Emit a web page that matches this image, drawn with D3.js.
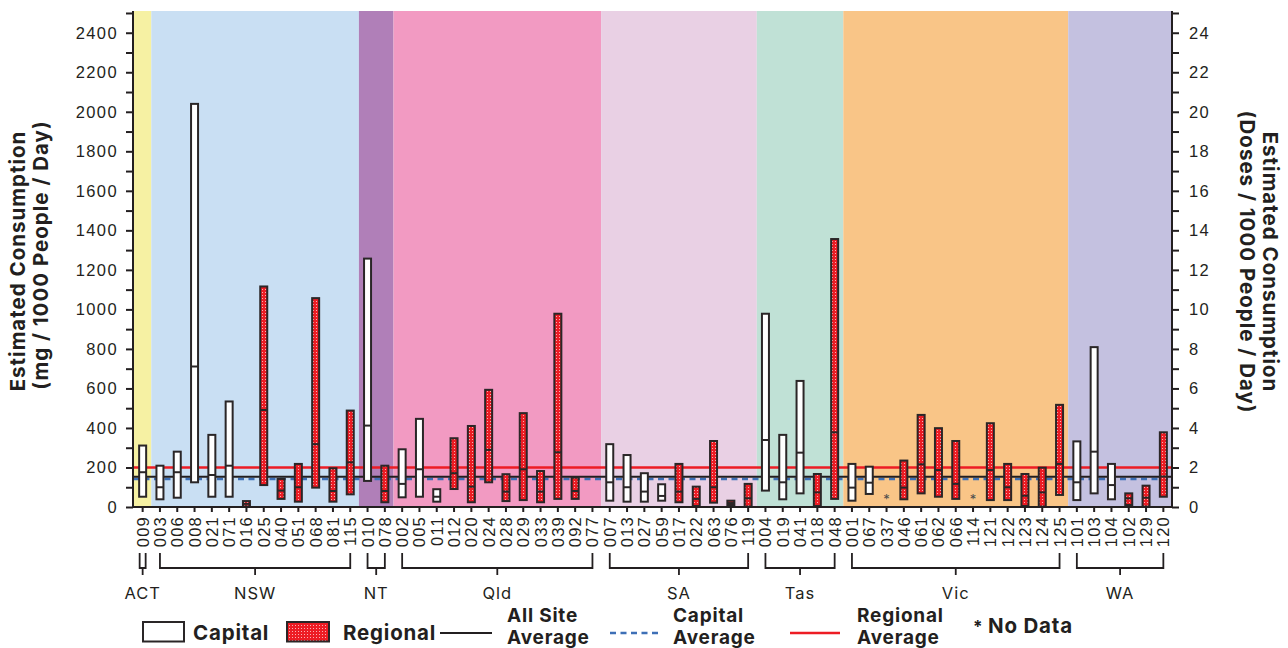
<!DOCTYPE html>
<html>
<head>
<meta charset="utf-8">
<script src="https://cdn.jsdelivr.net/npm/d3@7"></script>
<style>
  html, body { margin: 0; padding: 0; background: #ffffff; }
  svg { display: block; font-family: Inter, "Noto Sans", sans-serif; }
</style>
</head>
<body>
<svg id="chart" width="1288" height="648"></svg>
<script>
// ---- Data -----------------------------------------------------------------
const sites = ["009","003","006","008","021","071","016","025","040","051","068","081","115",
  "010","078","002","005","011","012","020","024","028","029","033","039","092","077",
  "007","013","027","059","017","022","063","076","119","004","019","041","018","048",
  "001","067","037","046","061","062","066","114","121","122","123","124","125",
  "101","103","104","102","129","120"];

// "C" = capital city site, "R" = regional site
const siteTypes = ["C","C","C","C","C","C","R","R","R","R","R","R","R",
  "C","R","C","C","C","R","R","R","R","R","R","R","R","R",
  "C","C","C","C","R","R","R","R","R","C","C","C","R","R",
  "C","C","C","R","R","R","R","R","R","R","R","R","R",
  "C","C","C","R","R","R"];

// mg / 1000 people / day : lowest, median and highest sample per site
const lowValues = [52,39,47,125,52,52,3,111,41,27,98,27,64,
  132,24,49,52,27,91,24,125,30,35,24,41,41,null,
  32,27,27,32,24,5,22,10,2,83,39,69,5,41,
  32,66,null,39,69,52,41,null,35,35,5,2,61,
  35,69,39,10,2,52];
const medianValues = [176,100,176,711,162,209,16,491,83,100,318,81,226,
  412,81,117,191,52,171,103,289,78,191,78,277,81,null,
  125,100,78,56,78,41,100,20,44,339,125,275,74,378,
  98,123,null,98,216,187,117,null,187,100,57,74,218,
  125,280,111,44,47,154];
const highValues = [311,209,280,2040,365,534,30,1116,142,218,1057,196,488,
  1257,209,292,446,90,348,410,593,166,475,182,978,149,null,
  318,263,171,115,218,103,334,32,117,978,365,638,167,1356,
  218,204,null,235,466,399,334,null,424,218,167,199,517,
  332,809,218,69,108,378];

const noDataSites = ["037","114"];

const stateNames = ["ACT","NSW","NT","Qld","SA","Tas","Vic","WA"];
const stateSiteCounts = [1,12,2,12,9,5,13,6];
const stateColours = ["#f6f1a3","#c9dff3","#b07fb8","#f29ac2","#e9d0e4","#c0e1d6","#f9c587","#c4c1e0"];

const allSiteAverage = 153;
const capitalAverage = 142;
const regionalAverage = 200;

const mgTickLabels = [0,200,400,600,800,1000,1200,1400,1600,1800,2000,2200,2400];
const doseTickLabels = [0,2,4,6,8,10,12,14,16,18,20,22,24];

// ---- Layout ---------------------------------------------------------------
const plotLeft = 133, plotRight = 1172, plotTop = 11, plotBottom = 507;
const ink = "#231f20";
const red = "#ed1c24";

const svg = d3.select("#chart");

// red fill with a sparse grid of white dots for regional sites
const defs = svg.append("defs");
const pat = defs.append("pattern")
  .attr("id", "regionalDots")
  .attr("patternUnits", "userSpaceOnUse")
  .attr("width", 3).attr("height", 3);
pat.append("rect").attr("width", 3).attr("height", 3).attr("fill", red);
pat.append("rect").attr("x", 1).attr("y", 1).attr("width", 1).attr("height", 1)
  .attr("fill", "#ffffff").attr("opacity", 0.65);

const x = d3.scaleBand().domain(sites).range([134, plotRight]).padding(0);
const bw = x.bandwidth();
const cx = s => x(s) + bw / 2;

const y = d3.scaleLinear().domain([0, 2510]).range([plotBottom, plotTop]);
const yDose = d3.scaleLinear().domain([0, 25.1]).range([plotBottom, plotTop]);

// ---- State background bands --------------------------------------------------
const stateGroups = [];
let start = 0;
stateNames.forEach((name, i) => {
  const members = sites.slice(start, start + stateSiteCounts[i]);
  stateGroups.push({ name, members, colour: stateColours[i] });
  start += stateSiteCounts[i];
});

svg.append("g").selectAll("rect")
  .data(stateGroups)
  .join("rect")
  .attr("x", (d, i) => i === 0 ? plotLeft : x(d.members[0]))
  .attr("y", plotTop)
  .attr("width", (d, i) => x(d.members[d.members.length - 1]) + bw - (i === 0 ? plotLeft : x(d.members[0])))
  .attr("height", plotBottom - plotTop)
  .attr("fill", d => d.colour);

// ---- Average lines -------------------------------------------------------------
const avg = svg.append("g");
avg.append("line")
  .attr("x1", plotLeft).attr("x2", plotRight)
  .attr("y1", y(regionalAverage)).attr("y2", y(regionalAverage))
  .attr("stroke", red).attr("stroke-width", 2.5);
avg.append("line")
  .attr("x1", plotLeft).attr("x2", plotRight)
  .attr("y1", y(capitalAverage)).attr("y2", y(capitalAverage))
  .attr("stroke", "#3d6fb6").attr("stroke-width", 2.5)
  .attr("stroke-dasharray", "6,4.5");
avg.append("line")
  .attr("x1", plotLeft).attr("x2", plotRight)
  .attr("y1", y(allSiteAverage)).attr("y2", y(allSiteAverage))
  .attr("stroke", ink).attr("stroke-width", 2);

// ---- Range bars ------------------------------------------------------------------
const siteData = sites.map((s, i) => ({
  site: s, type: siteTypes[i],
  low: lowValues[i], mid: medianValues[i], high: highValues[i]
})).filter(d => d.low !== null);

const barW = 7;
const bars = svg.append("g").selectAll("g")
  .data(siteData)
  .join("g");

bars.append("rect")
  .attr("x", d => cx(d.site) - barW / 2)
  .attr("y", d => y(d.high))
  .attr("width", barW)
  .attr("height", d => y(d.low) - y(d.high))
  .attr("fill", d => d.type === "C" ? "#ffffff" : "url(#regionalDots)")
  .attr("stroke", "#2a2627")
  .attr("stroke-width", 2);

bars.append("line")
  .attr("x1", d => cx(d.site) - barW / 2)
  .attr("x2", d => cx(d.site) + barW / 2)
  .attr("y1", d => y(d.mid))
  .attr("y2", d => y(d.mid))
  .attr("stroke", "#2a2627")
  .attr("stroke-width", 2);

svg.append("g").selectAll("text")
  .data(noDataSites)
  .join("text")
  .attr("x", d => cx(d))
  .attr("y", plotBottom - 3)
  .attr("text-anchor", "middle")
  .attr("font-size", 13)
  .attr("fill", "#4d4d4d")
  .text("*");

// ---- Axes ------------------------------------------------------------------------
function styleAxis(g) {
  g.select(".domain").remove();
  g.selectAll(".tick line").attr("stroke", ink).attr("stroke-width", 2);
  g.selectAll(".tick text").attr("fill", ink).attr("font-size", 16.5)
    .attr("letter-spacing", "1.4px");
}

svg.append("g")
  .attr("transform", `translate(${plotLeft},0)`)
  .call(d3.axisLeft(y)
    .tickValues(d3.range(0, 2501, 100))
    .tickSize(7).tickPadding(8)
    .tickFormat(d => mgTickLabels.includes(d) ? d : ""))
  .call(styleAxis);

svg.append("g")
  .attr("transform", `translate(${plotRight},0)`)
  .call(d3.axisRight(yDose)
    .tickValues(d3.range(0, 26, 1))
    .tickSize(7).tickPadding(10)
    .tickFormat(d => doseTickLabels.includes(d) ? d : ""))
  .call(styleAxis);

const bottomAxis = svg.append("g")
  .attr("transform", `translate(0,${plotBottom})`)
  .call(d3.axisBottom(x).tickSize(5).tickSizeOuter(0))
  .call(styleAxis);
bottomAxis.selectAll(".tick text")
  .attr("transform", "rotate(-90)")
  .attr("x", -9).attr("y", 0).attr("dy", "0.36em")
  .attr("text-anchor", "end")
  .attr("font-size", 16.5)
  .attr("letter-spacing", "1.2px");

// frame lines
const frame = svg.append("g").attr("stroke", ink).attr("stroke-width", 2).attr("fill", "none");
frame.append("line").attr("x1", plotLeft).attr("x2", plotLeft).attr("y1", plotTop).attr("y2", plotBottom + 1);
frame.append("line").attr("x1", plotRight).attr("x2", plotRight).attr("y1", plotTop).attr("y2", plotBottom + 1);
frame.append("line").attr("x1", plotLeft - 1).attr("x2", plotRight + 1).attr("y1", plotBottom).attr("y2", plotBottom);

// ---- State brackets --------------------------------------------------------------
const brTop = 553, brBottom = 568, brTick = 575;
const brackets = svg.append("g").attr("stroke", ink).attr("stroke-width", 1.8).attr("fill", "none");
stateGroups.forEach(g => {
  let x1 = cx(g.members[0]);
  let x2 = cx(g.members[g.members.length - 1]);
  if (x1 === x2) { x1 -= 3; x2 += 3; }
  const mid = (x1 + x2) / 2;
  brackets.append("path")
    .attr("d", `M${x1},${brTop}V${brBottom}H${x2}V${brTop}M${mid},${brBottom}V${brTick}`);
  svg.append("text")
    .attr("x", mid).attr("y", 599)
    .attr("text-anchor", "middle")
    .attr("font-size", 16.5)
    .attr("letter-spacing", "1px")
    .attr("fill", ink)
    .text(g.name);
});

// ---- Axis titles ---------------------------------------------------------------------
const titleStyle = t => t.attr("font-size", 20.5).attr("font-weight", 700)
  .attr("fill", ink).attr("text-anchor", "middle").attr("letter-spacing", "1px");

svg.append("text").attr("transform", "translate(25,261) rotate(-90)")
  .call(titleStyle).text("Estimated Consumption");
svg.append("text").attr("transform", "translate(48,255) rotate(-90)")
  .call(titleStyle).text("(mg / 1000 People / Day)");
svg.append("text").attr("transform", "translate(1263,262) rotate(90)")
  .call(titleStyle).text("Estimated Consumption");
svg.append("text").attr("transform", "translate(1240,262) rotate(90)")
  .call(titleStyle).text("(Doses / 1000 People / Day)");

// ---- Legend ------------------------------------------------------------------------------
const legend = svg.append("g");
const legendText = (xPos, yPos, str, size) => legend.append("text")
  .attr("x", xPos).attr("y", yPos)
  .attr("font-size", size).attr("font-weight", 700)
  .attr("letter-spacing", "0.8px")
  .attr("fill", ink).text(str);

legend.append("rect").attr("x", 143).attr("y", 622).attr("width", 41).attr("height", 19.5)
  .attr("fill", "#ffffff").attr("stroke", "#2a2627").attr("stroke-width", 2);
legendText(193, 640, "Capital", 20.5);

legend.append("rect").attr("x", 287).attr("y", 622).attr("width", 42).attr("height", 19.5)
  .attr("fill", "url(#regionalDots)").attr("stroke", "#2a2627").attr("stroke-width", 2);
legendText(343, 640, "Regional", 20.5);

legend.append("line").attr("x1", 440).attr("x2", 492).attr("y1", 633).attr("y2", 633)
  .attr("stroke", ink).attr("stroke-width", 2);
legendText(507, 622, "All Site", 19);
legendText(507, 644, "Average", 19);

legend.append("line").attr("x1", 610).attr("x2", 660).attr("y1", 633).attr("y2", 633)
  .attr("stroke", "#3d6fb6").attr("stroke-width", 2.5).attr("stroke-dasharray", "6,4.5");
legendText(673, 622, "Capital", 19);
legendText(673, 644, "Average", 19);

legend.append("line").attr("x1", 790).attr("x2", 840).attr("y1", 633).attr("y2", 633)
  .attr("stroke", red).attr("stroke-width", 2.5);
legendText(857, 622, "Regional", 19);
legendText(857, 644, "Average", 19);

legend.append("text").attr("x", 973).attr("y", 633)
  .attr("font-size", 17).attr("font-weight", 700).attr("fill", ink).text("*");
legendText(988, 633, "No Data", 20.5);
</script>
</body>
</html>
